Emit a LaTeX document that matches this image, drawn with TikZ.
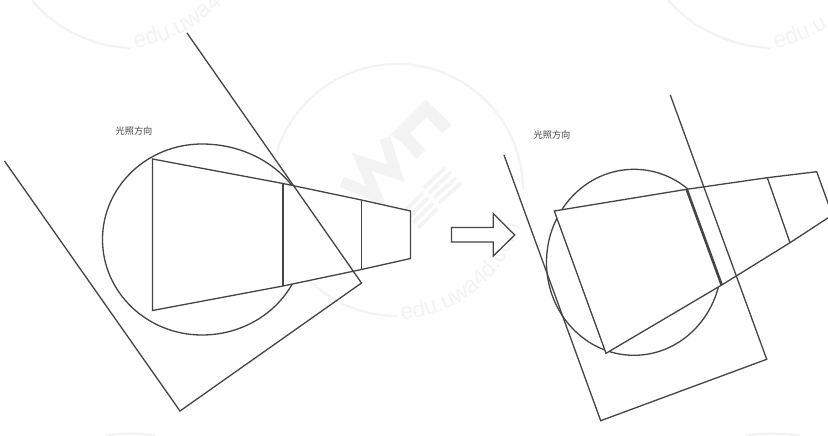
\documentclass[tikz,border=0pt]{standalone}
\usepackage{fontspec}
\setmainfont{Liberation Sans}
\newfontfamily\cjk{Noto Sans CJK SC}
\usetikzlibrary{decorations.text}
\definecolor{ink}{HTML}{444444}
\definecolor{wm}{HTML}{F3F3F3}
\tikzset{
  x=1pt,y=-1pt,
  outline/.style={draw=ink,line width=1.3pt,line join=miter},
  heavy/.style={draw=ink,line width=2pt},
  heavier/.style={draw=ink,line width=2.6pt},
  mark label/.style={font=\cjk\fontsize{9.2}{10}\selectfont,text=ink,inner sep=0pt},
  wm ring/.style={draw=wm,line width=2.2pt},
  wm mark/.style={fill=wm,draw=none},
  wm stroke/.style={draw=wm,line width=11pt,line join=miter},
  wm bar/.style={draw=wm,line width=3.6pt},
  wm text/.style={decoration={text along path,text align=left,
     text={|\fontsize{23}{23}\selectfont\color{wm}|#1}},decorate},
}
\begin{document}
\begin{tikzpicture}
\useasboundingbox (0,0) rectangle (828,436);
\clip (0,0) rectangle (828,436);
\fill[white] (0,0) rectangle (828,436);
% watermark
\draw[wm ring] (397,316) arc[start angle=90,end angle=360,radius=126];
\path[wm text=edu.uwa4d.com] (401,319) arc[start angle=88,end angle=0,radius=128];
\draw[wm ring] (32,0) .. controls (55,28) and (90,46) .. (130,48);
\path[wm text=edu.uwa4] (135,48) .. controls (175,42) and (205,22) .. (235,-8);
\draw[wm ring] (668,0) .. controls (692,28) and (730,46) .. (770,48);
\path[wm text=edu.uw] (775,48) .. controls (800,44) and (815,36) .. (830,26);
\draw[wm ring] (105,436) .. controls (120,433) and (140,433) .. (155,436);
\draw[wm ring] (745,436) .. controls (760,433) and (785,433) .. (800,436);
\fill[wm mark] (390.7,135) -- (426,100) -- (451.7,125) -- (441.7,133) -- (426.7,116.7) -- (410,133) -- (425,150) -- (416.7,159) -- (400,141) -- cycle;
\draw[wm stroke] (385,138.3) -- (396,173.3) -- (361.7,161.7) -- (376.7,196.7) -- (341.7,181.7);
\draw[wm bar] (424,188) -- (445,168);
\draw[wm bar] (429,193) -- (451,172);
\draw[wm bar] (434,198) -- (456,178);
\draw[wm bar] (439,203) -- (461,183);
\draw[wm bar] (403,213) -- (423,193);
\draw[wm bar] (408,218) -- (428,198);
\draw[wm bar] (413,223) -- (433,203);
\draw[wm bar] (418,228) -- (437,209);
% left
\coordinate (lt) at (202,144);
\draw[outline] (lt) arc[start angle=270,end angle=90,x radius=99.5,y radius=95.5]
  arc[start angle=90,end angle=0,x radius=102,y radius=95.5]
  -- ++(0,-30)
  ;
\draw[outline] (lt) arc[start angle=270,end angle=360,x radius=109,y radius=95.5];
\coordinate (a1) at (152.5,159);
\coordinate (a2) at (283,183.5);
\coordinate (a3) at (361.5,200);
\coordinate (a4) at (410.5,211);
\coordinate (b4) at (410.5,258.5);
\coordinate (b3) at (361.5,269.5);
\coordinate (b2) at (283,286);
\coordinate (b1) at (152.5,310.5);
\draw[outline,fill=white] (a1) -- (a2) -- (a3) -- (a4) -- (b4) -- (b3) -- (b2) -- (b1) -- cycle;
\draw[heavy] (a2) -- (b2);
\draw[outline] (a3) -- (b3);
\coordinate (p1) at (187,33);
\coordinate (p2) at (361.5,283);
\coordinate (p3) at (180,411);
\coordinate (p4) at (4.5,161);
\draw[outline] (p1) -- (p2) -- (p3) -- (p4);
\node[mark label] (ll) at (134,131) {光照方向};
% arrow
\draw[outline,fill=white] (451.5,227.5) -- (493.3,227.5) -- (493.3,213.5) -- (514.7,235) -- (493.3,256) -- (493.3,242) -- (451.5,242) -- cycle;
% right
\draw[outline] (634,262.3) ellipse[x radius=87.5,y radius=93];
\coordinate (c1) at (554.3,211);
\coordinate (c2) at (686.7,189.3);
\coordinate (c3) at (767.3,177.7);
\coordinate (c4) at (816.7,171.7);
\coordinate (d4) at (832.4,215);
\coordinate (d3) at (790,242.7);
\coordinate (d2) at (721.7,285);
\coordinate (d1) at (606,353.3);
\draw[outline,fill=white] (c1) -- (c2) -- (c3) -- (c4) -- (d4) -- (d3) -- (d2) -- (d1) -- cycle;
\draw[heavier] (c2) -- (d2);
\draw[outline] (c3) -- (d3);
\coordinate (q1) at (670.3,95);
\coordinate (q2) at (766.7,359.3);
\coordinate (q3) at (600.7,420.7);
\coordinate (q4) at (504,155);
\draw[outline] (q1) -- (q2) -- (q3) -- (q4);
\node[mark label] (rl) at (552,135) {光照方向};
\end{tikzpicture}
\end{document}
